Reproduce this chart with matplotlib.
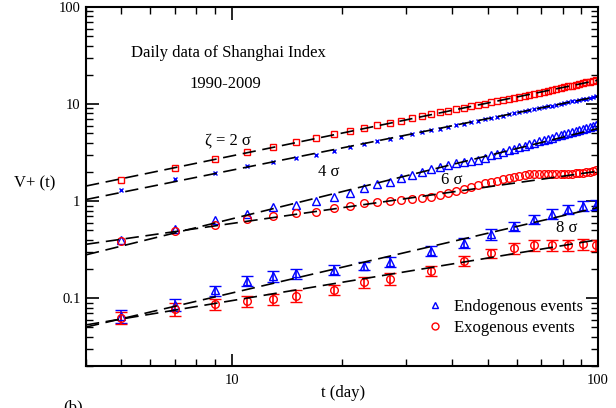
import numpy as np
import matplotlib
matplotlib.use("Agg")
import matplotlib.pyplot as plt
from matplotlib.lines import Line2D

plt.rcParams['font.family'] = ['Liberation Serif', 'DejaVu Serif']
plt.rcParams['mathtext.fontset'] = 'stix'

# ---------------- data ----------------
t_dense = [5, 7, 9, 11, 13, 15, 17, 19, 21, 23, 25, 27, 29, 31, 33, 35, 37, 39,
           41, 43, 45, 47, 49, 51, 53, 55, 57, 59, 61, 63, 65, 67, 69, 71, 73,
           75, 77, 79, 81, 83, 85, 87, 89, 91, 93, 95, 97, 99]

# zeta = 2 sigma, exogenous (red squares)
v2_exo = [1.65, 2.21, 2.69, 3.2, 3.65, 4.08, 4.48, 4.87, 5.3, 5.6, 6.05, 6.4,
          6.75, 7.12, 7.5, 7.85, 8.2, 8.55, 8.9, 9.2, 9.5, 9.8, 10.1, 10.4,
          10.7, 11.0, 11.3, 11.6, 11.9, 12.2, 12.5, 12.8, 13.1, 13.4, 13.7,
          14.0, 14.3, 14.6, 14.9, 15.2, 15.5, 15.8, 16.1, 16.4, 16.7, 17.0,
          17.3, 17.6]
# zeta = 2 sigma, endogenous (blue crosses)
v2_endo = [1.3, 1.67, 1.93, 2.28, 2.53, 2.8, 3.02, 3.3, 3.6, 3.86, 4.12, 4.37,
           4.62, 4.87, 5.12, 5.35, 5.58, 5.82, 6.05, 6.27, 6.5, 6.73, 6.95,
           7.18, 7.38, 7.59, 7.82, 8.02, 8.22, 8.43, 8.65, 8.85, 9.06, 9.26,
           9.46, 9.66, 9.86, 10.07, 10.26, 10.45, 10.64, 10.86, 11.04, 11.22,
           11.4, 11.61, 11.8, 12.0]
# zeta = 4 sigma, endogenous (blue triangles)
v4_endo = [0.40, 0.52, 0.64, 0.74, 0.86, 0.92, 1.0, 1.09, 1.22, 1.37, 1.49,
           1.58, 1.71, 1.85, 2.0, 2.12, 2.22, 2.35, 2.45, 2.53, 2.61, 2.67,
           2.8, 2.96, 3.08, 3.21, 3.34, 3.47, 3.59, 3.72, 3.86, 3.98, 4.12,
           4.25, 4.38, 4.51, 4.64, 4.78, 4.91, 5.05, 5.17, 5.32, 5.45, 5.58,
           5.71, 5.86, 6.0, 6.14]
# zeta = 6 sigma, exogenous (red circles)
v6_exo = [0.39, 0.49, 0.57, 0.65, 0.71, 0.76, 0.78, 0.85, 0.90, 0.96, 0.98,
          1.0, 1.03, 1.04, 1.07, 1.11, 1.16, 1.21, 1.27, 1.33, 1.40, 1.47,
          1.52, 1.57, 1.62, 1.68, 1.74, 1.78, 1.82, 1.85, 1.88, 1.89, 1.89,
          1.90, 1.89, 1.88, 1.88, 1.88, 1.89, 1.90, 1.91, 1.93, 1.95, 1.97,
          1.99, 2.01, 2.04, 2.07]

t_sparse = [5, 7, 9, 11, 13, 15, 19, 23, 27, 35, 43, 51, 59, 67, 75, 83, 91, 99]
# zeta = 8 sigma, endogenous (blue triangles with error bars)
v8_endo = [0.065, 0.085, 0.12, 0.15, 0.17, 0.18, 0.196, 0.217, 0.235, 0.305,
           0.37, 0.455, 0.55, 0.65, 0.74, 0.83, 0.90, 0.915]
e8_endo = [0.010, 0.012, 0.015, 0.018, 0.022, 0.022, 0.023, 0.021, 0.028,
           0.036, 0.043, 0.055, 0.06, 0.072, 0.085, 0.09, 0.10, 0.11]
# zeta = 8 sigma, exogenous (red circles with error bars)
v8_exo = [0.063, 0.077, 0.087, 0.093, 0.098, 0.106, 0.122, 0.146, 0.158, 0.19,
          0.241, 0.289, 0.326, 0.354, 0.354, 0.354, 0.359, 0.354]
e8_exo = [0.009, 0.012, 0.012, 0.012, 0.013, 0.015, 0.015, 0.02, 0.022, 0.022,
          0.029, 0.032, 0.042, 0.047, 0.047, 0.045, 0.045, 0.045]

# power-law fits  V = A * t**b
fit_amp = [0.485, 0.362, 0.0769, 0.170, 0.01486, 0.0222]
fit_exp = [0.78, 0.76, 0.931, 0.539, 0.881, 0.628]

# ---------------- figure ----------------
fig = plt.figure(figsize=(6.16, 4.08), dpi=100)
ax = fig.add_axes([86/616, 1-366/408, (598-86)/616, (366-7)/408])
ax.set_xscale('log')
ax.set_yscale('log')
ax.set_xlim(4, 100)
ax.set_ylim(0.02, 100)

tt = np.array([4.0, 100.0])
dash = (0, (8, 4))
for A, b in zip(fit_amp, fit_exp):
    ax.plot(tt, A * tt**b, color='black', lw=1.2, linestyle=dash, zorder=3)

red = '#ff0000'
blue = '#0000ff'
ms = 5
ax.plot(t_dense, v2_exo, 's', mfc='none', mec=red, ms=ms, mew=1.0, zorder=2)
ax.plot(t_dense, v2_endo, 'x', color=blue, ms=3.5, mew=1.0, zorder=2)
ax.plot(t_dense, v4_endo, '^', mfc='none', mec=blue, ms=ms+0.5, mew=1.0, zorder=2)
ax.plot(t_dense, v6_exo, 'o', mfc='none', mec=red, ms=ms+0.5, mew=1.0, zorder=2)

ax.errorbar(t_sparse, v8_endo, yerr=e8_endo, fmt='^', mfc='none', mec=blue,
            ms=ms+0.5, mew=1.0, ecolor=blue, elinewidth=1.2, capsize=4,
            capthick=1.2, zorder=2)
ax.errorbar(t_sparse, v8_exo, yerr=e8_exo, fmt='o', mfc='none', mec=red,
            ms=ms+0.5, mew=1.0, ecolor=red, elinewidth=1.2, capsize=4,
            capthick=1.2, zorder=2)

# ticks
ax.tick_params(which='both', direction='in', top=True, right=True)
ax.tick_params(which='major', length=9, width=1.2, labelsize=10.5, pad=4)
ax.tick_params(axis='x', which='major', pad=6)
ax.tick_params(which='minor', length=5, width=1.0)
ax.set_xticks([10, 100])
ax.set_xticklabels(['10', '100'])
ax.set_yticks([0.1, 1, 10, 100])
ax.set_yticklabels(['0.1', '1', '10', '100'])
for s in ax.spines.values():
    s.set_linewidth(1.5)

# annotations
fs = 12
fig.text(228/616, 1-53/408, 'Daily data of Shanghai Index', fontsize=fs,
         ha='center', va='center')
fig.text(225/616, 1-84/408, '1990-2009', fontsize=fs, ha='center', va='center')
fig.text(228/616, 1-140/408, 'ζ = 2 σ', fontsize=fs, ha='center', va='center')
fig.text(329/616, 1-172/408, '4 σ', fontsize=fs, ha='center', va='center')
fig.text(452/616, 1-180/408, '6 σ', fontsize=fs, ha='center', va='center')
fig.text(567/616, 1-228/408, '8 σ', fontsize=fs, ha='center', va='center')
fig.text(35/616, 1-183/408, 'V+ (t)', fontsize=fs, ha='center', va='center')
fig.text(343/616, 1-393/408, 't (day)', fontsize=fs, ha='center', va='center')
fig.text(73/616, 1-399/408, '(b)', fontsize=fs, ha='center', va='top')

handles = [Line2D([], [], ls='none', marker='^', mfc='none', mec=blue, ms=ms, mew=1.0),
           Line2D([], [], ls='none', marker='o', mfc='none', mec=red, ms=ms, mew=1.0)]
fig.legend(handles, ['Endogenous events', 'Exogenous events'],
           loc='upper left', bbox_to_anchor=(427/616, 1-299/408),
           frameon=False, fontsize=fs, handlelength=1.0, handletextpad=0.6,
           borderpad=0, borderaxespad=0, labelspacing=0.3)

fig.savefig('out.png', dpi=100)
